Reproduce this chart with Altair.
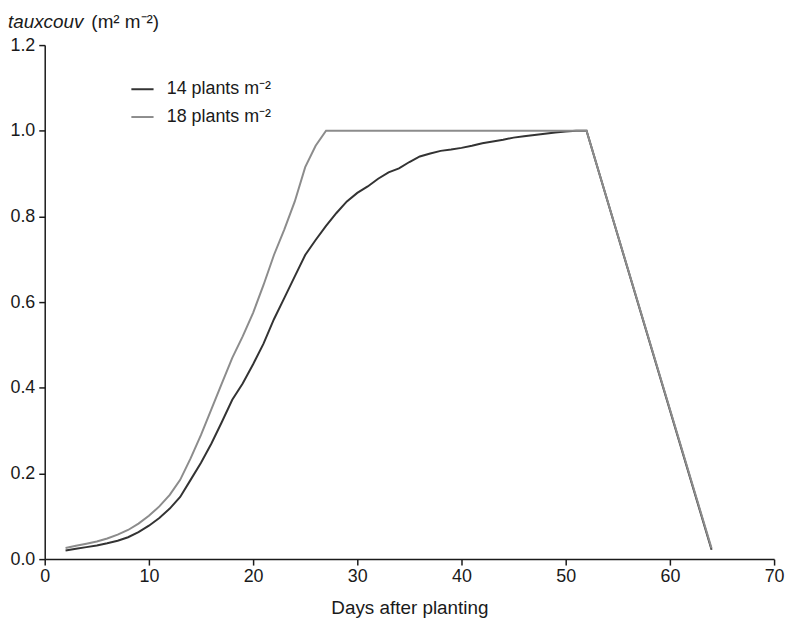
import altair as alt
import pandas as pd

days_14 = list(range(2, 53)) + [64]
vals_14 = [0.020, 0.024, 0.028, 0.032, 0.037, 0.043, 0.051, 0.063, 0.078, 0.096,
           0.118, 0.145, 0.185, 0.225, 0.270, 0.320, 0.372, 0.410, 0.455, 0.503,
           0.560, 0.610, 0.660, 0.710, 0.745, 0.778, 0.808, 0.835, 0.855, 0.870,
           0.888, 0.903, 0.912, 0.927, 0.940, 0.947, 0.953, 0.956, 0.960, 0.965,
           0.971, 0.975, 0.979, 0.984, 0.987, 0.990, 0.993, 0.996, 0.998, 1.000,
           1.000, 0.022]

days_18 = list(range(2, 28)) + [52, 64]
vals_18 = [0.026, 0.031, 0.036, 0.041, 0.048, 0.057, 0.068, 0.083, 0.101, 0.123,
           0.150, 0.185, 0.235, 0.290, 0.350, 0.410, 0.470, 0.520, 0.575, 0.640,
           0.710, 0.770, 0.835, 0.915, 0.965, 1.000, 1.000, 0.025]

series_names = ["14 plants m⁻²", "18 plants m⁻²"]
series_colors = ["#333333", "#8c8c8c"]

x_ticks = [0, 10, 20, 30, 40, 50, 60, 70]
y_ticks = [0.0, 0.2, 0.4, 0.6, 0.8, 1.0, 1.2]

df = pd.concat([
    pd.DataFrame({"day": days_14, "value": vals_14, "series": series_names[0], "ord": 0}),
    pd.DataFrame({"day": days_18, "value": vals_18, "series": series_names[1], "ord": 1}),
])

FONT = "Liberation Sans"

lines = alt.Chart(df).mark_line(strokeWidth=2, clip=False).encode(
    x=alt.X("day:Q",
            scale=alt.Scale(domain=[0, 70], nice=False),
            axis=alt.Axis(values=x_ticks, title="Days after planting", grid=False,
                          labelFontSize=18, titleFontSize=19, titleFontWeight="normal",
                          labelColor="#1a1a1a", titleColor="#1a1a1a",
                          domainColor="#1a1a1a", tickColor="#1a1a1a",
                          domainWidth=1.5, tickWidth=1.5, tickSize=6,
                          labelPadding=3, titlePadding=13, labelFlush=False)),
    y=alt.Y("value:Q",
            scale=alt.Scale(domain=[0, 1.2], nice=False),
            axis=alt.Axis(values=y_ticks, format=".1f", title=None, grid=False,
                          labelFontSize=18, labelColor="#1a1a1a",
                          domainColor="#1a1a1a", tickColor="#1a1a1a",
                          domainWidth=1.5, tickWidth=1.5, tickSize=6,
                          labelPadding=4, labelFlush=False)),
    color=alt.Color("series:N",
                    scale=alt.Scale(domain=series_names, range=series_colors),
                    legend=alt.Legend(title=None, orient="none", legendX=86, legendY=32,
                                      symbolType="stroke", symbolSize=500,
                                      symbolStrokeWidth=2, labelFontSize=18,
                                      labelColor="#1a1a1a", rowPadding=6,
                                      labelOffset=12)),
    order=alt.Order("ord:Q"),
)

title_italic = alt.Chart(pd.DataFrame({"t": ["tauxcouv"]})).mark_text(
    align="left", baseline="alphabetic", fontSize=19, fontStyle="italic",
    font=FONT, color="#1a1a1a"
).encode(text="t:N", x=alt.value(-37), y=alt.value(-17))

title_units = alt.Chart(pd.DataFrame({"t": ["(m² m⁻²)"]})).mark_text(
    align="left", baseline="alphabetic", fontSize=19,
    font=FONT, color="#1a1a1a"
).encode(text="t:N", x=alt.value(47), y=alt.value(-17))

chart = alt.layer(lines, title_italic, title_units).properties(
    width=735, height=518,
    autosize=alt.AutoSizeParams(type="none"),
    padding={"left": 37, "top": 35, "right": 11, "bottom": 60},
).configure(font=FONT).configure_view(stroke=None)

chart.save("out.html", embed_options={"renderer": "svg", "actions": False})
